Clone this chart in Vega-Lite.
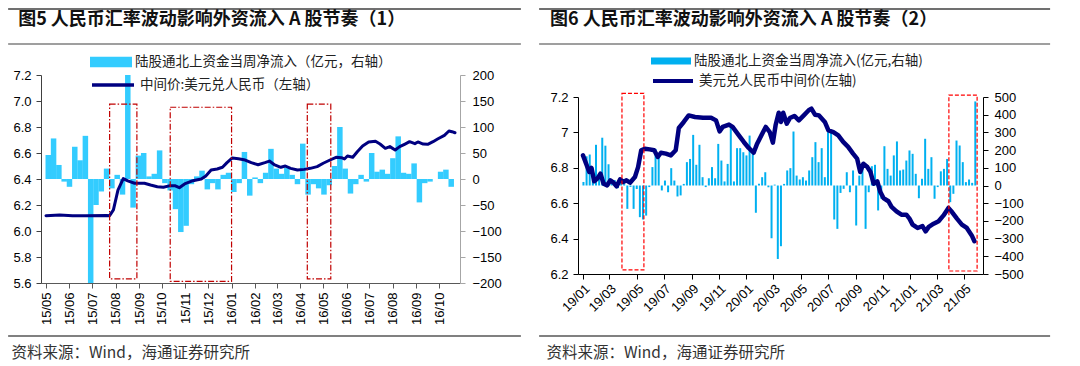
{
  "$schema": "https://vega.github.io/schema/vega-lite/v6.json",
  "background": "white",
  "padding": {"left": 7, "top": 7, "right": 5, "bottom": 0},
  "config": {
    "view": {"stroke": null},
    "font": "Noto Sans CJK SC",
    "axis": {"grid": false, "labelFont": "Liberation Sans", "labelFontSize": 13, "labelColor": "#000", "tickSize": 5},
    "legend": {"labelLimit": 500},
    "title": {"anchor": "start", "frame": "bounds", "font": "Noto Sans CJK SC", "fontSize": 18, "fontWeight": "bold", "color": "#111", "offset": -21}
  },
  "columns": 2,
  "align": "none",
  "spacing": {"row": 0, "column": 16},
  "resolve": {"scale": {"fill": "independent", "stroke": "independent"}, "legend": {"fill": "independent", "stroke": "independent"}},
  "concat": [
    {"width": 1, "height": 1, "data": {"values": [{}]}, "mark": {"type": "point", "size": 0, "opacity": 0, "strokeWidth": 0}, "encoding": {}},
    {"width": 1, "height": 1, "data": {"values": [{}]}, "mark": {"type": "point", "size": 0, "opacity": 0, "strokeWidth": 0}, "encoding": {}},
    {
      "title": {"text": "图5  人民币汇率波动影响外资流入 A 股节奏（1）", "dx": 11},
      "width": 419,
      "height": 208,
      "resolve": {"scale": {"y": "independent"}},
      "layer": [
        {
          "data": {"values": [
            {"date": "2015-05-04", "flow": 46}, {"date": "2015-05-11", "flow": 78}, {"date": "2015-05-18", "flow": 27}, {"date": "2015-05-25", "flow": -5},
            {"date": "2015-06-01", "flow": -15}, {"date": "2015-06-08", "flow": 62}, {"date": "2015-06-15", "flow": 36}, {"date": "2015-06-22", "flow": 83}, {"date": "2015-06-29", "flow": -210},
            {"date": "2015-07-06", "flow": -50}, {"date": "2015-07-13", "flow": -24}, {"date": "2015-07-20", "flow": 20}, {"date": "2015-07-27", "flow": -18},
            {"date": "2015-08-03", "flow": 8}, {"date": "2015-08-10", "flow": -30}, {"date": "2015-08-17", "flow": 210}, {"date": "2015-08-24", "flow": -55}, {"date": "2015-08-31", "flow": 45},
            {"date": "2015-09-07", "flow": 50}, {"date": "2015-09-14", "flow": 5}, {"date": "2015-09-21", "flow": 10}, {"date": "2015-09-28", "flow": 55},
            {"date": "2015-10-05", "flow": -8}, {"date": "2015-10-12", "flow": -22}, {"date": "2015-10-19", "flow": -58}, {"date": "2015-10-26", "flow": -102},
            {"date": "2015-11-02", "flow": -90}, {"date": "2015-11-09", "flow": -10}, {"date": "2015-11-16", "flow": 5}, {"date": "2015-11-23", "flow": 16}, {"date": "2015-11-30", "flow": -20},
            {"date": "2015-12-07", "flow": -8}, {"date": "2015-12-14", "flow": -20}, {"date": "2015-12-21", "flow": 8}, {"date": "2015-12-28", "flow": 12},
            {"date": "2016-01-04", "flow": -25}, {"date": "2016-01-11", "flow": -8}, {"date": "2016-01-18", "flow": 52}, {"date": "2016-01-25", "flow": -32},
            {"date": "2016-02-01", "flow": 3}, {"date": "2016-02-08", "flow": -8}, {"date": "2016-02-15", "flow": 12}, {"date": "2016-02-22", "flow": 58}, {"date": "2016-02-29", "flow": 20},
            {"date": "2016-03-07", "flow": 10}, {"date": "2016-03-14", "flow": 22}, {"date": "2016-03-21", "flow": 8}, {"date": "2016-03-28", "flow": -10},
            {"date": "2016-04-04", "flow": 68}, {"date": "2016-04-11", "flow": -30}, {"date": "2016-04-18", "flow": -10}, {"date": "2016-04-25", "flow": -18},
            {"date": "2016-05-02", "flow": -30}, {"date": "2016-05-09", "flow": -12}, {"date": "2016-05-16", "flow": 25}, {"date": "2016-05-23", "flow": 100}, {"date": "2016-05-30", "flow": 20},
            {"date": "2016-06-06", "flow": -28}, {"date": "2016-06-13", "flow": -10}, {"date": "2016-06-20", "flow": 8}, {"date": "2016-06-27", "flow": -5},
            {"date": "2016-07-04", "flow": 50}, {"date": "2016-07-11", "flow": 14}, {"date": "2016-07-18", "flow": 18}, {"date": "2016-07-25", "flow": 10},
            {"date": "2016-08-01", "flow": 40}, {"date": "2016-08-08", "flow": 82}, {"date": "2016-08-15", "flow": 12}, {"date": "2016-08-22", "flow": 10}, {"date": "2016-08-29", "flow": 30},
            {"date": "2016-09-05", "flow": -45}, {"date": "2016-09-12", "flow": -8}, {"date": "2016-09-19", "flow": -5}, {"date": "2016-09-26", "flow": 0},
            {"date": "2016-10-03", "flow": 14}, {"date": "2016-10-10", "flow": 18}, {"date": "2016-10-17", "flow": -15}
          ]},
          "mark": {"type": "bar", "width": 5.5, "clip": true},
          "encoding": {
            "x": {"field": "date", "type": "temporal", "scale": {"domain": ["2015-05-01", "2016-10-22"], "nice": false},
              "axis": {"format": "%y/%m", "tickCount": {"interval": "month", "step": 1}, "labelAngle": -90, "labelPadding": 4, "labelOverlap": false, "labelFlush": false,
                "domainColor": "#595959", "tickColor": "#595959",
                "title": "资料来源：Wind，海通证券研究所", "titleAnchor": "start", "titleAlign": "left", "titleBaseline": "middle", "titleX": -30, "titleY": 69,
                "titleFont": "Noto Sans CJK SC", "titleFontSize": 15.5, "titleFontWeight": "normal", "titleColor": "#333"}},
            "y": {"field": "flow", "type": "quantitative", "scale": {"domain": [-200, 200]},
              "axis": {"orient": "right", "values": [-200, -150, -100, -50, 0, 50, 100, 150, 200], "title": null, "domainColor": "#A6A6A6", "tickColor": "#A6A6A6", "labelPadding": 7}},
            "fill": {"datum": "陆股通北上资金当周净流入（亿元，右轴）", "type": "nominal", "scale": {"range": ["#33CCFF"]},
              "legend": {"orient": "none", "legendX": 49, "legendY": -34, "title": null, "padding": 0, "symbolType": "M-1,-0.25H1V0.25H-1Z", "symbolSize": 1764, "symbolStrokeWidth": 0, "labelOffset": 3, "labelFont": "Noto Sans CJK SC", "labelFontSize": 13.5, "labelColor": "#222"}}
          }
        },
        {
          "data": {"values": [
            {"date": "2015-05-01", "rate": 6.118}, {"date": "2015-05-19", "rate": 6.123}, {"date": "2015-06-05", "rate": 6.118}, {"date": "2015-06-22", "rate": 6.118},
            {"date": "2015-07-20", "rate": 6.12}, {"date": "2015-07-24", "rate": 6.118}, {"date": "2015-07-29", "rate": 6.162}, {"date": "2015-08-04", "rate": 6.315},
            {"date": "2015-08-11", "rate": 6.403}, {"date": "2015-08-17", "rate": 6.385}, {"date": "2015-08-26", "rate": 6.367}, {"date": "2015-09-08", "rate": 6.367},
            {"date": "2015-09-16", "rate": 6.354}, {"date": "2015-09-25", "rate": 6.341}, {"date": "2015-10-03", "rate": 6.336}, {"date": "2015-10-12", "rate": 6.349},
            {"date": "2015-10-18", "rate": 6.349}, {"date": "2015-10-24", "rate": 6.333}, {"date": "2015-10-31", "rate": 6.362}, {"date": "2015-11-11", "rate": 6.387},
            {"date": "2015-11-22", "rate": 6.4}, {"date": "2015-11-28", "rate": 6.423}, {"date": "2015-12-05", "rate": 6.469}, {"date": "2015-12-13", "rate": 6.477},
            {"date": "2015-12-20", "rate": 6.49}, {"date": "2015-12-26", "rate": 6.526}, {"date": "2016-01-02", "rate": 6.562}, {"date": "2016-01-10", "rate": 6.556},
            {"date": "2016-01-19", "rate": 6.546}, {"date": "2016-01-27", "rate": 6.526}, {"date": "2016-02-05", "rate": 6.51}, {"date": "2016-02-14", "rate": 6.526},
            {"date": "2016-02-20", "rate": 6.538}, {"date": "2016-02-27", "rate": 6.508}, {"date": "2016-03-06", "rate": 6.49}, {"date": "2016-03-12", "rate": 6.5},
            {"date": "2016-03-19", "rate": 6.482}, {"date": "2016-03-28", "rate": 6.469}, {"date": "2016-04-06", "rate": 6.474}, {"date": "2016-04-14", "rate": 6.482},
            {"date": "2016-04-23", "rate": 6.495}, {"date": "2016-05-01", "rate": 6.521}, {"date": "2016-05-10", "rate": 6.546}, {"date": "2016-05-18", "rate": 6.567},
            {"date": "2016-05-25", "rate": 6.564}, {"date": "2016-05-29", "rate": 6.554}, {"date": "2016-06-02", "rate": 6.577}, {"date": "2016-06-09", "rate": 6.567},
            {"date": "2016-06-15", "rate": 6.61}, {"date": "2016-06-22", "rate": 6.654}, {"date": "2016-06-30", "rate": 6.685}, {"date": "2016-07-09", "rate": 6.69},
            {"date": "2016-07-15", "rate": 6.669}, {"date": "2016-07-22", "rate": 6.636}, {"date": "2016-07-28", "rate": 6.649}, {"date": "2016-08-04", "rate": 6.623},
            {"date": "2016-08-10", "rate": 6.649}, {"date": "2016-08-17", "rate": 6.669}, {"date": "2016-08-23", "rate": 6.687}, {"date": "2016-08-30", "rate": 6.672},
            {"date": "2016-09-03", "rate": 6.685}, {"date": "2016-09-10", "rate": 6.669}, {"date": "2016-09-16", "rate": 6.667}, {"date": "2016-09-23", "rate": 6.687},
            {"date": "2016-09-29", "rate": 6.708}, {"date": "2016-10-08", "rate": 6.736}, {"date": "2016-10-14", "rate": 6.769}, {"date": "2016-10-18", "rate": 6.764},
            {"date": "2016-10-22", "rate": 6.756}
          ]},
          "mark": {"type": "line", "strokeWidth": 3, "strokeCap": "round", "strokeJoin": "round"},
          "encoding": {
            "x": {"field": "date", "type": "temporal", "scale": {"domain": ["2015-05-01", "2016-10-22"], "nice": false}},
            "y": {"field": "rate", "type": "quantitative", "scale": {"domain": [5.6, 7.2]},
              "axis": {"orient": "left", "values": [5.6, 5.8, 6.0, 6.2, 6.4, 6.6, 6.8, 7.0, 7.2], "format": ".1f", "title": null, "domainColor": "#404040", "tickColor": "#404040", "labelPadding": 5}},
            "stroke": {"datum": "中间价:美元兑人民币（左轴）", "type": "nominal", "scale": {"range": ["#000080"]},
              "legend": {"orient": "none", "legendX": 49, "legendY": -13, "title": null, "padding": 0, "symbolType": "stroke", "symbolSize": 1764, "symbolStrokeWidth": 3.5, "labelOffset": 4, "labelFont": "Noto Sans CJK SC", "labelFontSize": 13.5, "labelColor": "#222"}}
          }
        },
        {
          "data": {"values": [
            {"start": "2015-07-24", "end": "2015-08-29", "top": 144, "bottom": -192},
            {"start": "2015-10-12", "end": "2016-01-01", "top": 138, "bottom": -197},
            {"start": "2016-04-10", "end": "2016-05-11", "top": 144, "bottom": -192}
          ]},
          "mark": {"type": "rect", "filled": false, "stroke": "#C00000", "strokeWidth": 1.2, "strokeDash": [6, 2, 1.5, 2], "clip": false},
          "encoding": {
            "x": {"field": "start", "type": "temporal", "scale": {"domain": ["2015-05-01", "2016-10-22"], "nice": false}},
            "x2": {"field": "end"},
            "y": {"field": "top", "type": "quantitative", "scale": {"domain": [-200, 200]}, "axis": null},
            "y2": {"field": "bottom"}
          }
        },
        {
          "data": {"values": [{}]},
          "mark": {"type": "rule", "stroke": "#404040", "strokeWidth": 1.5, "clip": false},
          "encoding": {
            "x": {"datum": {"year": 2015, "month": 3, "date": 12, "utc": true}, "type": "temporal", "scale": {"domain": ["2015-05-01", "2016-10-22"], "nice": false}},
            "x2": {"datum": {"year": 2017, "month": 1, "date": 17, "utc": true}},
            "y": {"datum": 326.9, "type": "quantitative", "scale": {"domain": [-200, 200]}, "axis": null}
          }
        },
        {
          "data": {"values": [{}]},
          "mark": {"type": "rule", "stroke": "#404040", "strokeWidth": 1.2, "clip": false},
          "encoding": {
            "x": {"datum": {"year": 2015, "month": 3, "date": 12, "utc": true}, "type": "temporal", "scale": {"domain": ["2015-05-01", "2016-10-22"], "nice": false}},
            "x2": {"datum": {"year": 2017, "month": 1, "date": 17, "utc": true}},
            "y": {"datum": 259.6, "type": "quantitative", "scale": {"domain": [-200, 200]}, "axis": null}
          }
        },
        {
          "data": {"values": [{}]},
          "mark": {"type": "rule", "stroke": "#808080", "strokeWidth": 2, "clip": false},
          "encoding": {
            "x": {"datum": {"year": 2015, "month": 3, "date": 12, "utc": true}, "type": "temporal", "scale": {"domain": ["2015-05-01", "2016-10-22"], "nice": false}},
            "x2": {"datum": {"year": 2017, "month": 1, "date": 17, "utc": true}},
            "y": {"datum": -301.9, "type": "quantitative", "scale": {"domain": [-200, 200]}, "axis": null}
          }
        }
      ]
    },
    {
      "title": {"text": "图6  人民币汇率波动影响外资流入 A 股节奏（2）", "dx": 12},
      "width": 405,
      "height": 177,
      "resolve": {"scale": {"y": "independent"}},
      "layer": [
        {
          "data": {"values": [
            {"date": "2019-01-02", "flow": 20}, {"date": "2019-01-09", "flow": 165}, {"date": "2019-01-16", "flow": 175}, {"date": "2019-01-23", "flow": 55}, {"date": "2019-01-30", "flow": 230},
            {"date": "2019-02-06", "flow": 65}, {"date": "2019-02-13", "flow": 270}, {"date": "2019-02-20", "flow": 225}, {"date": "2019-02-27", "flow": 120},
            {"date": "2019-03-06", "flow": 10}, {"date": "2019-03-13", "flow": 30}, {"date": "2019-03-20", "flow": -15}, {"date": "2019-03-27", "flow": 20},
            {"date": "2019-04-03", "flow": 8}, {"date": "2019-04-10", "flow": -132}, {"date": "2019-04-17", "flow": -8}, {"date": "2019-04-24", "flow": -132},
            {"date": "2019-05-01", "flow": -20}, {"date": "2019-05-08", "flow": -179}, {"date": "2019-05-15", "flow": -192}, {"date": "2019-05-22", "flow": -170}, {"date": "2019-05-29", "flow": -9},
            {"date": "2019-06-05", "flow": 104}, {"date": "2019-06-12", "flow": 207}, {"date": "2019-06-19", "flow": 179}, {"date": "2019-06-26", "flow": -28},
            {"date": "2019-07-03", "flow": 28}, {"date": "2019-07-10", "flow": -38}, {"date": "2019-07-17", "flow": 98}, {"date": "2019-07-24", "flow": 28}, {"date": "2019-07-31", "flow": -62},
            {"date": "2019-08-07", "flow": -56}, {"date": "2019-08-14", "flow": 9}, {"date": "2019-08-21", "flow": 132}, {"date": "2019-08-28", "flow": 150},
            {"date": "2019-09-04", "flow": 286}, {"date": "2019-09-11", "flow": 117}, {"date": "2019-09-18", "flow": 230}, {"date": "2019-09-25", "flow": 47},
            {"date": "2019-10-02", "flow": -9}, {"date": "2019-10-09", "flow": 41}, {"date": "2019-10-16", "flow": 104}, {"date": "2019-10-23", "flow": 41}, {"date": "2019-10-30", "flow": 235},
            {"date": "2019-11-06", "flow": 141}, {"date": "2019-11-13", "flow": 23}, {"date": "2019-11-20", "flow": 122}, {"date": "2019-11-27", "flow": 330},
            {"date": "2019-12-04", "flow": 23}, {"date": "2019-12-11", "flow": 211}, {"date": "2019-12-18", "flow": 211}, {"date": "2019-12-25", "flow": 188},
            {"date": "2020-01-01", "flow": 170}, {"date": "2020-01-08", "flow": 282}, {"date": "2020-01-15", "flow": 185}, {"date": "2020-01-22", "flow": -154}, {"date": "2020-01-29", "flow": 10},
            {"date": "2020-02-05", "flow": 47}, {"date": "2020-02-12", "flow": 75}, {"date": "2020-02-19", "flow": -10}, {"date": "2020-02-26", "flow": -298},
            {"date": "2020-03-04", "flow": 5}, {"date": "2020-03-11", "flow": -415}, {"date": "2020-03-18", "flow": -343}, {"date": "2020-03-25", "flow": 9},
            {"date": "2020-04-01", "flow": 85}, {"date": "2020-04-08", "flow": 98}, {"date": "2020-04-15", "flow": 305}, {"date": "2020-04-22", "flow": 56}, {"date": "2020-04-29", "flow": 34},
            {"date": "2020-05-06", "flow": 47}, {"date": "2020-05-13", "flow": 28}, {"date": "2020-05-20", "flow": 85}, {"date": "2020-05-27", "flow": 160},
            {"date": "2020-06-03", "flow": 245}, {"date": "2020-06-10", "flow": 132}, {"date": "2020-06-17", "flow": 211}, {"date": "2020-06-24", "flow": 47},
            {"date": "2020-07-01", "flow": 301}, {"date": "2020-07-08", "flow": 298}, {"date": "2020-07-15", "flow": -192}, {"date": "2020-07-22", "flow": -245}, {"date": "2020-07-29", "flow": -42},
            {"date": "2020-08-05", "flow": -19}, {"date": "2020-08-12", "flow": 75}, {"date": "2020-08-19", "flow": -38}, {"date": "2020-08-26", "flow": 85},
            {"date": "2020-09-02", "flow": -226}, {"date": "2020-09-09", "flow": 56}, {"date": "2020-09-16", "flow": 104}, {"date": "2020-09-23", "flow": -245}, {"date": "2020-09-30", "flow": -38},
            {"date": "2020-10-07", "flow": 109}, {"date": "2020-10-14", "flow": 117}, {"date": "2020-10-21", "flow": -141}, {"date": "2020-10-28", "flow": -75},
            {"date": "2020-11-04", "flow": 222}, {"date": "2020-11-11", "flow": 94}, {"date": "2020-11-18", "flow": 56}, {"date": "2020-11-25", "flow": 170},
            {"date": "2020-12-02", "flow": 249}, {"date": "2020-12-09", "flow": 85}, {"date": "2020-12-16", "flow": 90}, {"date": "2020-12-23", "flow": 141}, {"date": "2020-12-30", "flow": 198},
            {"date": "2021-01-06", "flow": 179}, {"date": "2021-01-13", "flow": 66}, {"date": "2021-01-20", "flow": -72}, {"date": "2021-01-27", "flow": 38},
            {"date": "2021-02-03", "flow": 264}, {"date": "2021-02-10", "flow": 94}, {"date": "2021-02-17", "flow": 160}, {"date": "2021-02-24", "flow": -75},
            {"date": "2021-03-03", "flow": -9}, {"date": "2021-03-10", "flow": 80}, {"date": "2021-03-17", "flow": 94}, {"date": "2021-03-24", "flow": 150}, {"date": "2021-03-31", "flow": -94},
            {"date": "2021-04-07", "flow": -47}, {"date": "2021-04-14", "flow": 254}, {"date": "2021-04-21", "flow": 226}, {"date": "2021-04-28", "flow": 132},
            {"date": "2021-05-05", "flow": 19}, {"date": "2021-05-12", "flow": 34}, {"date": "2021-05-19", "flow": 15}, {"date": "2021-05-26", "flow": 475}
          ]},
          "mark": {"type": "bar", "width": 2, "clip": true},
          "encoding": {
            "x": {"field": "date", "type": "temporal", "scale": {"domain": ["2019-01-01", "2021-06-01"], "nice": false},
              "axis": {"format": "%y/%m", "tickCount": {"interval": "month", "step": 2}, "labelAngle": -45, "labelPadding": 3, "labelOverlap": false, "labelFlush": false,
                "domainColor": "#000", "tickColor": "#000",
                "title": "资料来源：Wind，海通证券研究所", "titleAnchor": "start", "titleAlign": "left", "titleBaseline": "middle", "titleX": -32, "titleY": 78,
                "titleFont": "Noto Sans CJK SC", "titleFontSize": 15.5, "titleFontWeight": "normal", "titleColor": "#333"}},
            "y": {"field": "flow", "type": "quantitative", "scale": {"domain": [-500, 500]},
              "axis": {"orient": "right", "values": [-500, -400, -300, -200, -100, 0, 100, 200, 300, 400, 500], "title": null, "domainColor": "#000", "tickColor": "#000", "labelPadding": 6}},
            "fill": {"datum": "陆股通北上资金当周净流入(亿元,右轴)", "type": "nominal", "scale": {"range": ["#00B0F0"]},
              "legend": {"orient": "none", "legendX": 73, "legendY": -56, "title": null, "padding": 0, "symbolType": "M-1,-0.175H1V0.175H-1Z", "symbolSize": 1600, "symbolStrokeWidth": 0, "labelOffset": 3, "labelFont": "Noto Sans CJK SC", "labelFontSize": 13.5, "labelColor": "#222"}}
          }
        },
        {
          "data": {"values": [
            {"date": "2019-01-01", "rate": 6.870}, {"date": "2019-01-08", "rate": 6.823}, {"date": "2019-01-15", "rate": 6.776}, {"date": "2019-01-20", "rate": 6.799},
            {"date": "2019-01-26", "rate": 6.724}, {"date": "2019-02-02", "rate": 6.739}, {"date": "2019-02-09", "rate": 6.767}, {"date": "2019-02-16", "rate": 6.710},
            {"date": "2019-02-24", "rate": 6.701}, {"date": "2019-03-03", "rate": 6.729}, {"date": "2019-03-10", "rate": 6.716}, {"date": "2019-03-17", "rate": 6.695},
            {"date": "2019-03-25", "rate": 6.735}, {"date": "2019-04-01", "rate": 6.720}, {"date": "2019-04-08", "rate": 6.729}, {"date": "2019-04-16", "rate": 6.716},
            {"date": "2019-04-27", "rate": 6.748}, {"date": "2019-05-04", "rate": 6.804}, {"date": "2019-05-11", "rate": 6.899}, {"date": "2019-05-19", "rate": 6.908},
            {"date": "2019-05-30", "rate": 6.904}, {"date": "2019-06-09", "rate": 6.899}, {"date": "2019-06-17", "rate": 6.861}, {"date": "2019-06-24", "rate": 6.885},
            {"date": "2019-07-05", "rate": 6.880}, {"date": "2019-07-16", "rate": 6.870}, {"date": "2019-07-27", "rate": 6.899}, {"date": "2019-08-03", "rate": 7.025},
            {"date": "2019-08-14", "rate": 7.059}, {"date": "2019-08-25", "rate": 7.096}, {"date": "2019-09-08", "rate": 7.087}, {"date": "2019-09-26", "rate": 7.083},
            {"date": "2019-10-14", "rate": 7.083}, {"date": "2019-10-25", "rate": 7.068}, {"date": "2019-11-02", "rate": 7.006}, {"date": "2019-11-09", "rate": 7.031},
            {"date": "2019-11-23", "rate": 7.044}, {"date": "2019-12-01", "rate": 7.031}, {"date": "2019-12-15", "rate": 6.983}, {"date": "2019-12-26", "rate": 6.946},
            {"date": "2020-01-06", "rate": 6.912}, {"date": "2020-01-17", "rate": 6.885}, {"date": "2020-01-24", "rate": 6.931}, {"date": "2020-02-04", "rate": 6.987},
            {"date": "2020-02-13", "rate": 7.031}, {"date": "2020-02-22", "rate": 7.002}, {"date": "2020-02-29", "rate": 6.942}, {"date": "2020-03-06", "rate": 7.040},
            {"date": "2020-03-13", "rate": 7.111}, {"date": "2020-03-18", "rate": 7.059}, {"date": "2020-03-23", "rate": 7.111}, {"date": "2020-03-31", "rate": 7.049},
            {"date": "2020-04-07", "rate": 7.081}, {"date": "2020-04-17", "rate": 7.093}, {"date": "2020-04-27", "rate": 7.068}, {"date": "2020-05-08", "rate": 7.096},
            {"date": "2020-05-19", "rate": 7.125}, {"date": "2020-05-25", "rate": 7.134}, {"date": "2020-06-02", "rate": 7.100}, {"date": "2020-06-11", "rate": 7.096},
            {"date": "2020-06-24", "rate": 7.059}, {"date": "2020-07-02", "rate": 7.012}, {"date": "2020-07-13", "rate": 7.002}, {"date": "2020-07-24", "rate": 6.983},
            {"date": "2020-08-04", "rate": 6.946}, {"date": "2020-08-15", "rate": 6.918}, {"date": "2020-08-26", "rate": 6.880}, {"date": "2020-09-04", "rate": 6.852},
            {"date": "2020-09-11", "rate": 6.776}, {"date": "2020-09-18", "rate": 6.823}, {"date": "2020-09-27", "rate": 6.804}, {"date": "2020-10-04", "rate": 6.776},
            {"date": "2020-10-11", "rate": 6.710}, {"date": "2020-10-19", "rate": 6.724}, {"date": "2020-10-26", "rate": 6.663}, {"date": "2020-11-02", "rate": 6.629},
            {"date": "2020-11-13", "rate": 6.611}, {"date": "2020-11-20", "rate": 6.579}, {"date": "2020-12-01", "rate": 6.554}, {"date": "2020-12-12", "rate": 6.535},
            {"date": "2020-12-23", "rate": 6.535}, {"date": "2020-12-30", "rate": 6.513}, {"date": "2021-01-06", "rate": 6.479}, {"date": "2021-01-17", "rate": 6.460},
            {"date": "2021-01-28", "rate": 6.471}, {"date": "2021-02-04", "rate": 6.441}, {"date": "2021-02-11", "rate": 6.466}, {"date": "2021-02-22", "rate": 6.484},
            {"date": "2021-03-05", "rate": 6.498}, {"date": "2021-03-16", "rate": 6.531}, {"date": "2021-03-27", "rate": 6.573}, {"date": "2021-04-04", "rate": 6.550},
            {"date": "2021-04-15", "rate": 6.513}, {"date": "2021-04-26", "rate": 6.479}, {"date": "2021-05-07", "rate": 6.460}, {"date": "2021-05-18", "rate": 6.418},
            {"date": "2021-05-24", "rate": 6.385}
          ]},
          "mark": {"type": "line", "strokeWidth": 4.5, "strokeCap": "round", "strokeJoin": "round"},
          "encoding": {
            "x": {"field": "date", "type": "temporal", "scale": {"domain": ["2019-01-01", "2021-06-01"], "nice": false}},
            "y": {"field": "rate", "type": "quantitative", "scale": {"domain": [6.2, 7.2]},
              "axis": {"orient": "left", "values": [6.2, 6.4, 6.6, 6.8, 7.0, 7.2], "format": ".2~f", "title": null, "domainColor": "#000", "tickColor": "#000", "labelPadding": 5}},
            "stroke": {"datum": "美元兑人民币中间价(左轴)", "type": "nominal", "scale": {"range": ["#000080"]},
              "legend": {"orient": "none", "legendX": 73, "legendY": -38, "title": null, "padding": 0, "symbolType": "stroke", "symbolSize": 1600, "symbolStrokeWidth": 4, "labelOffset": 4, "labelFont": "Noto Sans CJK SC", "labelFontSize": 13.5, "labelColor": "#222"}}
          }
        },
        {
          "data": {"values": [
            {"start": "2019-03-29", "end": "2019-05-17", "top": 521, "bottom": -477},
            {"start": "2021-03-28", "end": "2021-05-30", "top": 511, "bottom": -483}
          ]},
          "mark": {"type": "rect", "filled": false, "stroke": "#FF0000", "strokeWidth": 1.2, "strokeDash": [4, 2], "clip": false},
          "encoding": {
            "x": {"field": "start", "type": "temporal", "scale": {"domain": ["2019-01-01", "2021-06-01"], "nice": false}},
            "x2": {"field": "end"},
            "y": {"field": "top", "type": "quantitative", "scale": {"domain": [-500, 500]}, "axis": null},
            "y2": {"field": "bottom"}
          }
        },
        {
          "data": {"values": [{}]},
          "mark": {"type": "rule", "stroke": "#404040", "strokeWidth": 1.5, "clip": false},
          "encoding": {
            "x": {"datum": {"year": 2018, "month": 9, "date": 25, "utc": true}, "type": "temporal", "scale": {"domain": ["2019-01-01", "2021-06-01"], "nice": false}},
            "x2": {"datum": {"year": 2021, "month": 11, "date": 9, "utc": true}},
            "y": {"datum": 997, "type": "quantitative", "scale": {"domain": [-500, 500]}, "axis": null}
          }
        },
        {
          "data": {"values": [{}]},
          "mark": {"type": "rule", "stroke": "#404040", "strokeWidth": 1.2, "clip": false},
          "encoding": {
            "x": {"datum": {"year": 2018, "month": 9, "date": 25, "utc": true}, "type": "temporal", "scale": {"domain": ["2019-01-01", "2021-06-01"], "nice": false}},
            "x2": {"datum": {"year": 2021, "month": 11, "date": 9, "utc": true}},
            "y": {"datum": 799.5, "type": "quantitative", "scale": {"domain": [-500, 500]}, "axis": null}
          }
        },
        {
          "data": {"values": [{}]},
          "mark": {"type": "rule", "stroke": "#808080", "strokeWidth": 2, "clip": false},
          "encoding": {
            "x": {"datum": {"year": 2018, "month": 9, "date": 25, "utc": true}, "type": "temporal", "scale": {"domain": ["2019-01-01", "2021-06-01"], "nice": false}},
            "x2": {"datum": {"year": 2021, "month": 11, "date": 9, "utc": true}},
            "y": {"datum": -850.3, "type": "quantitative", "scale": {"domain": [-500, 500]}, "axis": null}
          }
        }
      ]
    }
  ]
}
